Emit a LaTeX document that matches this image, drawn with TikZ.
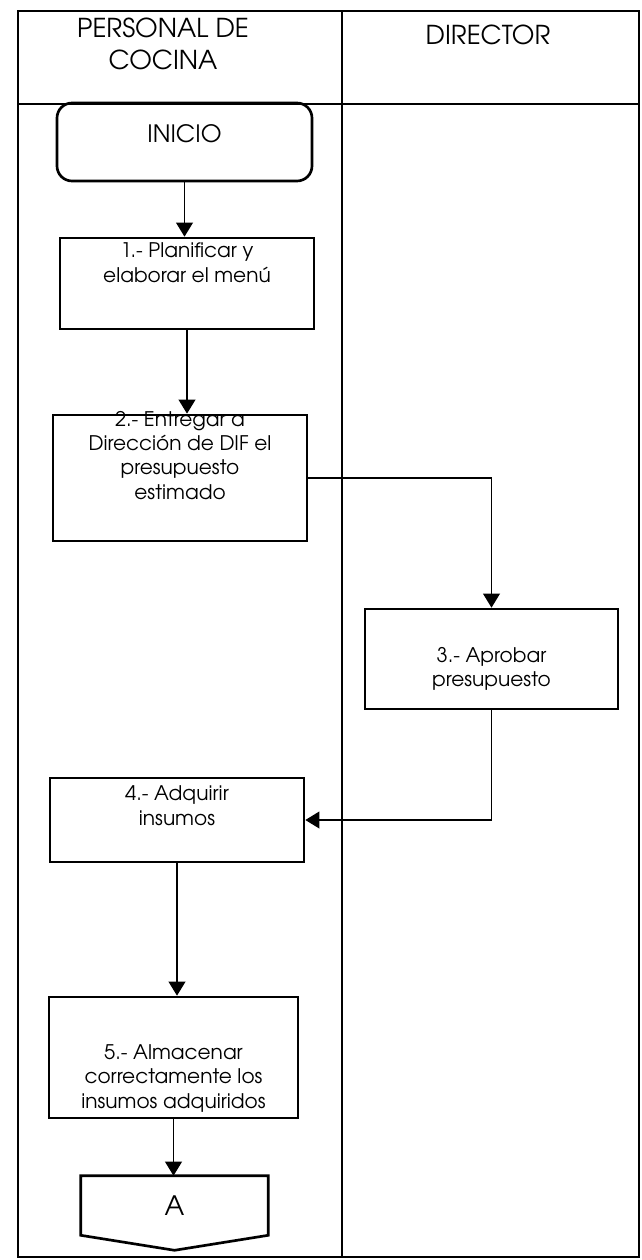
\documentclass[tikz,border=0pt]{standalone}
\usepackage{fontspec}
\setmainfont{TeX Gyre Adventor}
\usetikzlibrary{arrows.meta,calc}
\newcommand{\pxu}{0.025cm}
\tikzset{
	lane/.style={line width=1.1pt},
	box/.style={draw, line width=1.9pt, minimum width=254*\pxu, inner sep=0pt},
	txt/.style={align=center, inner sep=0pt, font=\fontsize{14.3}{17.3}\selectfont},
	hdr/.style={align=center, inner sep=0pt, font=\fontsize{18.5}{22.7}\selectfont},
	flow/.style={line width=0.9pt, -{Triangle[width=12pt,length=10pt]}},
}

\begin{document}
\begin{tikzpicture}[x=0.025cm, y=-0.025cm]
		%%%%% START %%%%%
		\useasboundingbox (0,0) rectangle (642,1260);
		
		\draw[lane] (18,11) rectangle (639,1257);
		\draw[lane] (18,104) -- (639,104);
		\draw[lane] (342,11) -- (342,1257);
		
		\node[hdr, anchor=north] (cocina) at (163,18) {PERSONAL DE\\COCINA};
		\node[hdr, anchor=north] (director) at (488,25) {DIRECTOR};
		
		\node[box, rounded corners=15*\pxu, minimum width=255*\pxu, minimum height=78*\pxu,
			label={[hdr, font=\fontsize{17}{20}\selectfont, yshift=8*\pxu]center:INICIO}] (ini) at (184.5,142) {};
		
		\node[box, minimum height=91*\pxu,
			label={[txt, anchor=north, yshift=-6*\pxu]north:{1.- Planificar y\\elaborar el menú}}] (p1) at (187,283.5) {};
		
		\node[box, minimum height=126*\pxu,
			label={[txt, anchor=north, yshift=3*\pxu]north:{2.- Entregar a\\Dirección de DIF el\\presupuesto\\estimado}}] (p2) at (180,478) {};
		
		\node[box, minimum width=253*\pxu, minimum height=100*\pxu,
			label={[txt, yshift=-10*\pxu]center:{3.- Aprobar\\presupuesto}}] (p3) at (491.5,659) {};
		
		\node[box, minimum height=84*\pxu,
			label={[txt, anchor=north, yshift=-9*\pxu]north:{4.- Adquirir\\insumos}}] (p4) at (177,820) {};
		
		\node[box, minimum width=249*\pxu, minimum height=121*\pxu,
			label={[txt, anchor=south, yshift=7*\pxu]south:{5.- Almacenar\\correctamente los\\insumos adquiridos}}] (p5) at (173.5,1057.5) {};
		
		\node[hdr, font=\fontsize{19}{22}\selectfont, minimum width=187*\pxu, minimum height=59*\pxu] (conA) at (174.5,1205.5) {A};
		\draw[line width=1.9pt] (conA.north west) -- (conA.north east) -- (conA.south east)
			-- ([yshift=-15*\pxu]conA.south) -- (conA.south west) -- cycle;
		
		\draw[flow] (ini.south) -- (ini.south |- p1.north);
		\draw[flow] (p1.south) -- (p1.south |- p2.north);
		\draw[flow] (p2.east) -| (p3.north);
		\draw[flow] (p3.south) |- (p4.east);
		\draw[flow] (p4.south) -- (p4.south |- p5.north);
		\draw[flow] (p5.south) -- (p5.south |- conA.north);
		
		%%%%% END %%%%%
	\end{tikzpicture}
\end{document}
